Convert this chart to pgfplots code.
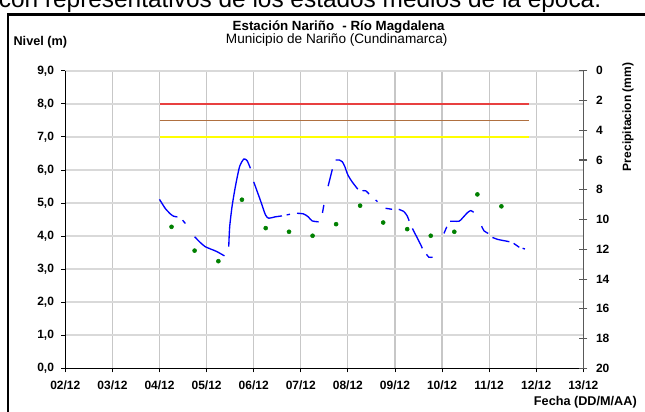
\documentclass[border=0pt]{standalone}
\usepackage{fontspec}
\setmainfont{Liberation Sans}
\usepackage{pgfplots}
\pgfplotsset{compat=1.18}
\definecolor{alarmred}{RGB}{232,64,64}
\definecolor{alarmbrown}{RGB}{176,112,64}
\definecolor{alarmyellow}{RGB}{255,255,0}
\definecolor{dotgreen}{RGB}{0,128,0}
\begin{document}
\begin{tikzpicture}
\useasboundingbox (0,0) rectangle (483.75pt,308.25pt);
\clip (0,0) rectangle (483.75pt,308.25pt);
% text line of the page above the figure (cut off)
\node[anchor=base west, inner sep=0, font=\fontsize{18.3}{18.3}\selectfont] at (-1pt,302.4pt)
  {con representativos de los estados medios de la época.};
% frame
\draw[line width=2.2pt] (6pt,-10pt) -- (6pt,297.4pt) -- (500pt,297.4pt);
% titles
\node[anchor=base, inner sep=0, font=\bfseries\fontsize{10}{10}\selectfont] at (254pt,285pt)
  {Estación Nariño\,\, - Río Magdalena};
\node[anchor=base, inner sep=0, font=\fontsize{10.2}{10.2}\selectfont] at (252.5pt,275.3pt)
  {Municipio de Nariño (Cundinamarca)};
\node[anchor=base west, inner sep=0, font=\bfseries\fontsize{9.5}{9.5}\selectfont] at (10pt,274pt)
  {Nivel (m)};
\node[rotate=90, inner sep=0, font=\bfseries\fontsize{9}{9}\selectfont] at (471pt,220.5pt)
  {Precipitacion (mm)};
\node[anchor=base east, inner sep=0, font=\bfseries\fontsize{9.5}{9.5}\selectfont] at (477.75pt,4.5pt)
  {Fecha (DD/M/AA)};

\begin{axis}[
  at={(49pt,32pt)}, anchor=south west, scale only axis,
  width=388.5pt, height=223.2pt,
  xmin=2, xmax=13, ymin=0, ymax=9,
  axis lines*=left, axis line style={-, black, line width=0.8pt},
  xtick={2,...,13},
  xticklabels={02/12,03/12,04/12,05/12,06/12,07/12,08/12,09/12,10/12,11/12,12/12,13/12},
  ytick={0,...,9},
  yticklabels={{0,0},{1,0},{2,0},{3,0},{4,0},{5,0},{6,0},{7,0},{8,0},{9,0}},
  tick align=outside, major tick length=3pt,
  tick style={black, line width=0.6pt},
  tick label style={font=\bfseries\fontsize{9}{9}\selectfont},
  xticklabel style={yshift=-3pt},
  yticklabel style={xshift=-2pt},
  grid=major,
  x grid style={line width=0.9pt, color=black!22},
  y grid style={line width=1.2pt, color=black!15},
  unbounded coords=jump,
  clip=false,
]
% alarm levels
\addplot[alarmred, line width=1.4pt] coordinates {(4,8.0)(11.85,8.0)};
\addplot[alarmbrown, line width=0.9pt] coordinates {(4,7.5)(11.85,7.5)};
\addplot[alarmyellow, line width=1.4pt] coordinates {(4,7.0)(11.85,7.0)};
% daily level (with missing data)
\addplot[blue, line width=1.0pt, smooth, tension=0.4] table {
x y
4.00 5.11
4.12 4.84
4.23 4.67
4.30 4.60
4.38 4.58
nan nan
4.49 4.48
4.55 4.38
nan nan
4.745 3.98
4.87 3.80
4.97 3.68
5.10 3.60
5.22 3.53
5.38 3.40
nan nan
5.47 3.68
5.49 4.28
5.54 4.89
5.61 5.49
5.70 6.10
5.79 6.33
5.86 6.28
5.93 6.05
nan nan
6.00 5.64
6.14 5.09
6.25 4.64
6.32 4.54
6.45 4.58
6.60 4.61
nan nan
6.70 4.64
6.77 4.66
nan nan
6.92 4.69
7.06 4.67
7.16 4.58
7.24 4.46
7.38 4.43
nan nan
7.46 4.70
7.49 4.94
nan nan
7.58 5.51
7.67 6.02
nan nan
7.74 6.30
7.82 6.30
7.88 6.25
7.93 6.12
8.00 5.85
8.09 5.64
8.21 5.42
nan nan
8.31 5.37
8.38 5.37
8.45 5.27
nan nan
8.59 5.09
8.63 5.04
nan nan
8.80 4.84
8.94 4.81
nan nan
9.08 4.81
9.19 4.74
9.26 4.61
9.30 4.46
nan nan
9.37 4.23
9.46 3.98
9.55 3.73
9.58 3.63
nan nan
9.67 3.45
9.72 3.36
9.80 3.36
nan nan
10.04 4.08
10.10 4.28
nan nan
10.17 4.45
10.36 4.45
10.43 4.54
10.54 4.71
10.61 4.77
10.67 4.72
nan nan
10.84 4.30
10.89 4.16
10.98 4.08
nan nan
11.07 3.96
11.18 3.90
11.43 3.83
nan nan
11.52 3.78
11.64 3.66
nan nan
11.71 3.63
11.76 3.61
};
% monthly values
\addplot[only marks, mark=*, mark size=1.5pt, dotgreen] coordinates {
(4.255,4.28)(4.745,3.56)(5.25,3.24)(5.75,5.10)(6.255,4.24)(6.75,4.13)
(7.25,4.01)(7.75,4.36)(8.26,4.92)(8.75,4.41)(9.26,4.21)(9.76,4.01)
(10.26,4.13)(10.75,5.26)(11.26,4.90)};
\end{axis}

\begin{axis}[
  at={(49pt,32pt)}, anchor=south west, scale only axis,
  width=388.5pt, height=223.2pt,
  xmin=2, xmax=13, ymin=0, ymax=20, y dir=reverse,
  hide x axis, axis y line*=right,
  axis line style={-, black!65, line width=0.8pt},
  ytick={0,2,...,20},
  tick align=center, major tick length=6pt,
  tick style={black!65, line width=0.8pt},
  yticklabel style={font=\bfseries\fontsize{9}{9}\selectfont, xshift=3pt},
  /pgf/number format/assume math mode=true,
]
\addplot[draw=none] coordinates {(2,0)(13,20)};
\end{axis}
\end{tikzpicture}
\end{document}
